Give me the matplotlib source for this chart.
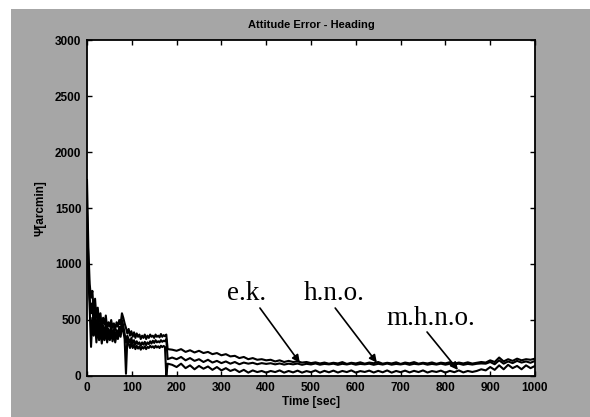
import matplotlib
matplotlib.use("Agg")
import matplotlib.pyplot as plt
from matplotlib.patches import Rectangle
import numpy as np

# ---- data ----
t_early = [0, 3, 6, 9, 12, 15, 18, 21, 24, 27, 30, 33, 36, 39, 42, 45, 48, 51, 54, 57,
           60, 63, 66, 69, 72, 75, 78, 81, 84, 87, 90, 93, 96, 99, 102, 105, 108, 111, 114, 117,
           120, 123, 126, 129, 132, 135, 138, 141, 144, 147, 150, 153, 156, 159, 162, 165, 168, 171, 174, 177,
           180]
t_late = [190, 200, 210, 220, 230, 240, 250, 260, 270, 280, 290, 300, 310, 320, 330, 340, 350, 360, 370, 380,
          390, 400, 410, 420, 430, 440, 450, 460, 470, 480, 490, 500, 510, 520, 530, 540, 550, 560, 570, 580,
          590, 600, 610, 620, 630, 640, 650, 660, 670, 680, 690, 700, 710, 720, 730, 740, 750, 760, 770, 780,
          790, 800, 810, 820, 830, 840, 850, 860, 870, 880, 890, 900, 910, 920, 930, 940, 950, 960, 970, 980,
          990, 1000]

ek_early = [1750, 1150, 820, 700, 760, 560, 690, 520, 610, 480, 560, 430, 520, 460, 540, 420, 480, 440, 500, 430,
            470, 410, 480, 440, 500, 460, 560, 520, 470, 430, 380, 420, 360, 400, 350, 390, 340, 380, 350, 370,
            330, 360, 340, 370, 330, 360, 340, 370, 350, 360, 340, 370, 350, 360, 345, 375, 350, 365, 355, 370,
            240]
ek_late = [235, 225, 240, 215, 230, 210, 225, 205, 215, 195, 205, 185, 195, 175, 180, 160, 170, 150, 160, 145,
           150, 140, 145, 130, 140, 125, 135, 125, 130, 120, 125, 115, 122, 112, 120, 110, 118, 112, 124, 108,
           118, 112, 122, 110, 120, 114, 125, 110, 118, 112, 122, 108, 120, 113, 124, 110, 118, 112, 121, 109,
           119, 113, 123, 110, 120, 112, 122, 111, 118, 125, 120, 140, 125, 165, 130, 150, 135, 155, 140, 150,
           145, 155]

hno_early = [1500, 1000, 700, 560, 650, 430, 580, 360, 520, 390, 480, 340, 450, 370, 460, 330, 420, 360, 440, 350,
             420, 330, 410, 360, 440, 390, 500, 450, 380, 300, 360, 330, 300, 340, 290, 320, 280, 310, 285, 300,
             270, 300, 280, 305, 275, 300, 285, 310, 290, 315, 295, 320, 300, 310, 300, 320, 305, 315, 310, 330,
             150]
hno_late = [165, 150, 170, 140, 160, 135, 150, 125, 145, 120, 135, 115, 130, 110, 125, 105, 120, 110, 118, 105,
            115, 108, 114, 104, 112, 102, 110, 104, 111, 100, 109, 103, 112, 101, 108, 104, 110, 100, 109, 103,
            111, 101, 108, 104, 110, 100, 109, 102, 111, 101, 108, 103, 110, 100, 109, 104, 111, 101, 108, 102,
            110, 101, 109, 103, 110, 100, 108, 102, 109, 112, 110, 125, 105, 140, 110, 130, 115, 135, 120, 130,
            118, 135]

mhno_early = [1300, 900, 600, 260, 520, 360, 480, 300, 440, 320, 400, 290, 380, 320, 400, 300, 370, 320, 390, 310,
              380, 300, 370, 330, 400, 350, 440, 400, 330, 20, 330, 290, 250, 300, 250, 280, 240, 270, 245, 265,
              235, 260, 245, 265, 240, 260, 250, 270, 255, 265, 250, 270, 255, 265, 250, 270, 258, 268, 260, 0,
              110]
mhno_late = [100, 80, 110, 70, 95, 60, 90, 65, 85, 55, 80, 50, 70, 45, 60, 35, 55, 30, 50, 35,
             45, 30, 45, 35, 50, 30, 45, 32, 48, 30, 44, 34, 50, 30, 46, 33, 48, 31, 45, 35,
             50, 30, 44, 36, 48, 31, 46, 33, 50, 30, 45, 34, 48, 32, 46, 35, 50, 31, 44, 36,
             48, 30, 46, 34, 50, 32, 45, 36, 45, 60, 50, 80, 55, 95, 60, 100, 70, 90, 60, 95,
             70, 90]

labels = ["e.k.", "h.n.o.", "m.h.n.o."]
label_pos = [(357, 679), (551, 679), (768, 455)]
arrow_start = [(386, 607), (554, 607), (759, 393)]
arrow_tip = [(475, 119), (647, 119), (828, 54)]

xticks = [0, 100, 200, 300, 400, 500, 600, 700, 800, 900, 1000]
yticks = [0, 500, 1000, 1500, 2000, 2500, 3000]

# ---- figure ----
fig = plt.figure(figsize=(5.9, 4.17), dpi=100, facecolor="white")
fig.patches.append(Rectangle((11 / 590, 0), 1 - 11 / 590, 1 - 9 / 417,
                             transform=fig.transFigure, facecolor="#a6a6a6",
                             edgecolor="none", zorder=-10))

ax = fig.add_axes([87 / 590, (417 - 376) / 417, (535 - 87) / 590, (376 - 40) / 417])
ax.set_facecolor("white")

t_all = t_early + t_late
for early, late in [(ek_early, ek_late), (hno_early, hno_late), (mhno_early, mhno_late)]:
    ax.plot(t_all, early + late, color="black", lw=1.5)

ax.set_xlim(0, 1000)
ax.set_ylim(0, 3000)
ax.set_xticks(xticks)
ax.set_yticks(yticks)
ax.tick_params(direction="in", length=3.5, width=1, top=True, right=True,
               labelsize=8.5, pad=4)
for lab in ax.get_xticklabels() + ax.get_yticklabels():
    lab.set_family("Liberation Sans")
    lab.set_fontweight("bold")
for sp in ax.spines.values():
    sp.set_linewidth(1.3)

ax.set_title("Attitude Error - Heading", fontsize=8, family="Liberation Sans",
             fontweight="bold", pad=9)
ax.set_xlabel("Time [sec]", fontsize=8.5, family="Liberation Sans", fontweight="bold",
              labelpad=2)
ax.set_ylabel("\u03a8[arcmin]", fontsize=8.5, family="Liberation Sans", fontweight="bold",
              labelpad=6)

for lab, (tx, ty), (sx, sy), (hx, hy) in zip(labels, label_pos, arrow_start, arrow_tip):
    ax.text(tx, ty, lab, ha="center", va="baseline", fontsize=19.5,
            family="Liberation Serif")
    ax.annotate("", xy=(hx, hy), xytext=(sx, sy),
                arrowprops=dict(arrowstyle="-|>", color="black", lw=1.2,
                                mutation_scale=11, shrinkA=0, shrinkB=0))

fig.savefig("out.png", dpi=100, facecolor=fig.get_facecolor())
